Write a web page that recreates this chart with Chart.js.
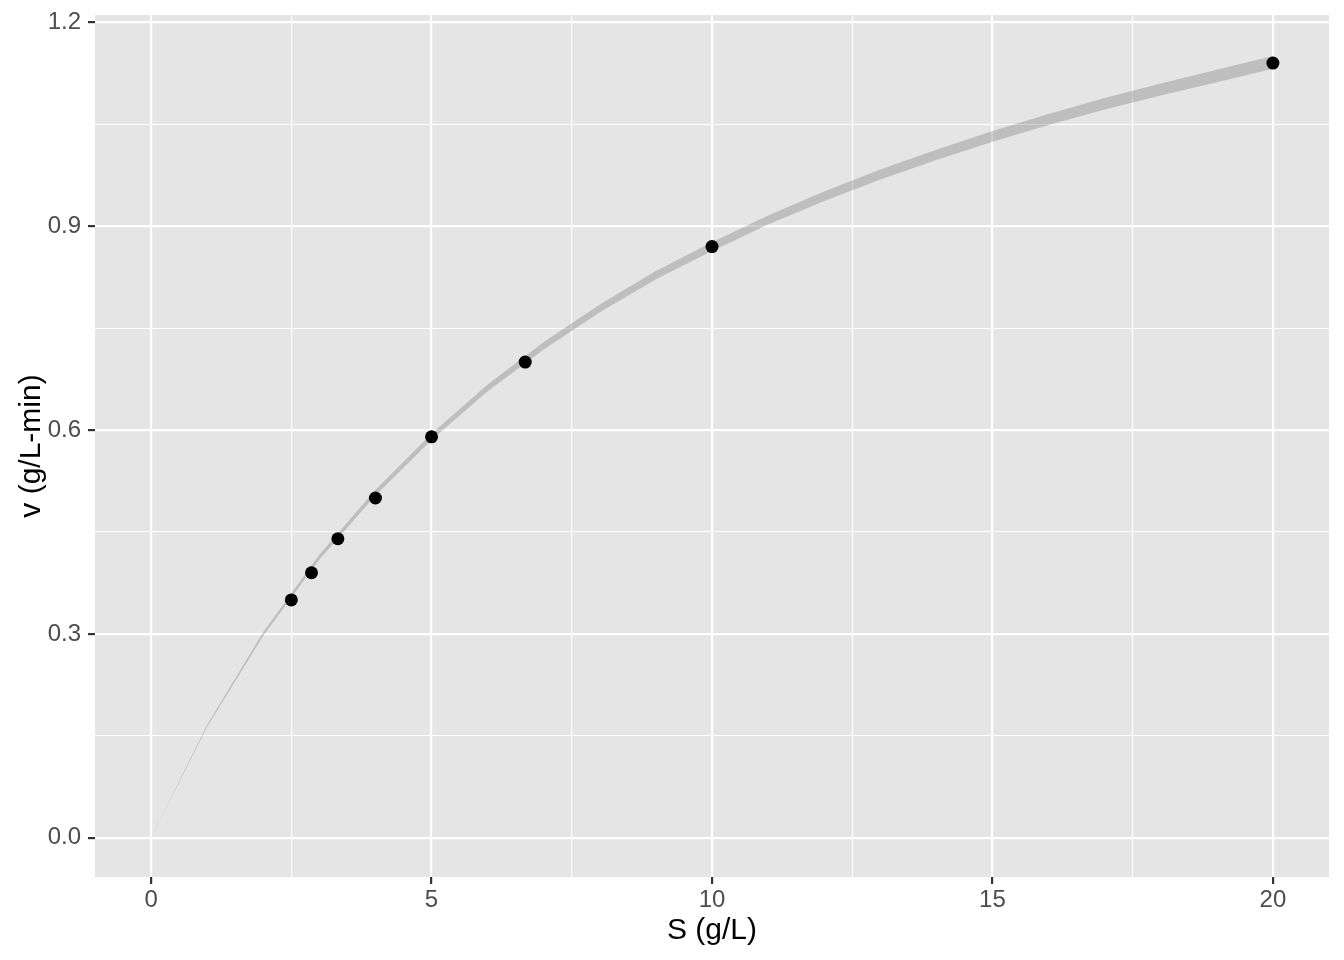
<!DOCTYPE html>
<html>
<head>
<meta charset="utf-8">
<script src="https://cdn.jsdelivr.net/npm/chart.js@4/dist/chart.umd.min.js"></script>
<style>
  html, body { margin: 0; padding: 0; background: #ffffff; }
  #wrap { width: 1344px; height: 960px; }
</style>
</head>
<body>
<div id="wrap"><canvas id="chart" width="1344" height="960"></canvas></div>
<script>
// Observed substrate / rate pairs.
const S_OBS = [2.5, 2.86, 3.33, 4, 5, 6.67, 10, 20];
const V_OBS = [0.35, 0.39, 0.44, 0.50, 0.59, 0.70, 0.87, 1.14];

// Fitted band at whole S values.
const S_FIT = [0, 1, 2, 3, 4, 5, 6, 7, 8, 9, 10, 11, 12, 13, 14, 15, 16, 17, 18, 19, 20];
const V_LOWER = [0, 0.1635, 0.2973, 0.4094, 0.5038, 0.5853, 0.6569, 0.7185, 0.7732, 0.8219,
  0.8636, 0.9023, 0.937, 0.9687, 0.9974, 1.0241, 1.0488, 1.0715, 1.0922, 1.1119, 1.1315];
const V_UPPER = [0, 0.1665, 0.3027, 0.4166, 0.5122, 0.5947, 0.6671, 0.7295, 0.7848, 0.8341,
  0.8764, 0.9157, 0.951, 0.9833, 1.0126, 1.0399, 1.0652, 1.0885, 1.1098, 1.1301, 1.1505];

// Axis ticks: majors get labels, minors only a thin grid line.
const X_TICKS = [0, 2.5, 5, 7.5, 10, 12.5, 15, 17.5, 20];
const X_MAJOR = [0, 5, 10, 15, 20];
const Y_TICKS = [0, 0.15, 0.3, 0.45, 0.6, 0.75, 0.9, 1.05, 1.2];
const Y_MAJOR = [0, 0.3, 0.6, 0.9, 1.2];

const PANEL_BG = '#E5E5E5';
const FONT = "'Liberation Sans', Arial, sans-serif";

const isMajor = (list, v) => list.some(m => Math.abs(m - v) < 1e-9);

const panelBackground = {
  id: 'panelBackground',
  beforeDraw(chart) {
    const { ctx, chartArea: a } = chart;
    ctx.save();
    ctx.fillStyle = PANEL_BG;
    ctx.fillRect(a.left, a.top, a.right - a.left, a.bottom - a.top);
    ctx.restore();
  },
};

function axis(ticks, major, fmt, titleText, titlePad) {
  return {
    type: 'linear',
    afterBuildTicks: (scale) => { scale.ticks = ticks.map(v => ({ value: v })); },
    grid: {
      color: '#ffffff',
      lineWidth: (c) => (isMajor(major, c.tick.value) ? 2.2 : 1.1),
      tickColor: (c) => (isMajor(major, c.tick.value) ? '#333333' : 'rgba(0,0,0,0)'),
      tickWidth: 2.2,
      tickLength: 7,
    },
    border: { display: false },
    ticks: {
      autoSkip: false,
      maxRotation: 0,
      color: '#4D4D4D',
      font: { family: FONT, size: 24 },
      callback: (v) => (isMajor(major, v) ? fmt(v) : ''),
    },
    title: {
      display: true,
      text: titleText,
      color: '#000000',
      font: { family: FONT, size: 30 },
      padding: titlePad,
    },
  };
}

const xAxis = axis(X_TICKS, X_MAJOR, v => String(v), 'S (g/L)', 11);
xAxis.min = -1;
xAxis.max = 21;
xAxis.ticks.padding = 2;
xAxis.afterFit = (scale) => { scale.height = 83; };

const yAxis = axis(Y_TICKS, Y_MAJOR, v => v.toFixed(1), 'v (g/L-min)', 14);
yAxis.min = -0.0577;
yAxis.max = 1.2107;
yAxis.ticks.padding = 7;
// fixed gutter; the panel edges come from layout padding, not label overflow
yAxis.afterFit = (scale) => {
  scale.width = 95;
  scale.paddingTop = 0;
  scale.paddingBottom = 0;
};

const pts = S_OBS.map((s, i) => ({ x: s, y: V_OBS[i] }));
const upper = S_FIT.map((s, i) => ({ x: s, y: V_UPPER[i] }));
const lower = S_FIT.map((s, i) => ({ x: s, y: V_LOWER[i] }));

new Chart(document.getElementById('chart'), {
  type: 'scatter',
  data: {
    datasets: [
      {
        label: 'observed',
        data: pts,
        backgroundColor: '#000000',
        borderWidth: 0,
        pointRadius: 6.5,
        showLine: false,
      },
      {
        label: 'upper',
        data: upper,
        showLine: true,
        borderWidth: 0,
        borderColor: 'rgba(0,0,0,0)',
        pointRadius: 0,
        tension: 0,
        fill: '+1',
        backgroundColor: 'rgba(100, 100, 100, 0.3)',
      },
      {
        label: 'lower',
        data: lower,
        showLine: true,
        borderWidth: 0,
        borderColor: 'rgba(0,0,0,0)',
        pointRadius: 0,
        tension: 0,
        fill: false,
      },
    ],
  },
  options: {
    responsive: false,
    animation: false,
    layout: { padding: { top: 15, right: 15, left: 0, bottom: 0 } },
    plugins: { legend: { display: false }, tooltip: { enabled: false } },
    scales: { x: xAxis, y: yAxis },
  },
  plugins: [panelBackground],
});
</script>
</body>
</html>
